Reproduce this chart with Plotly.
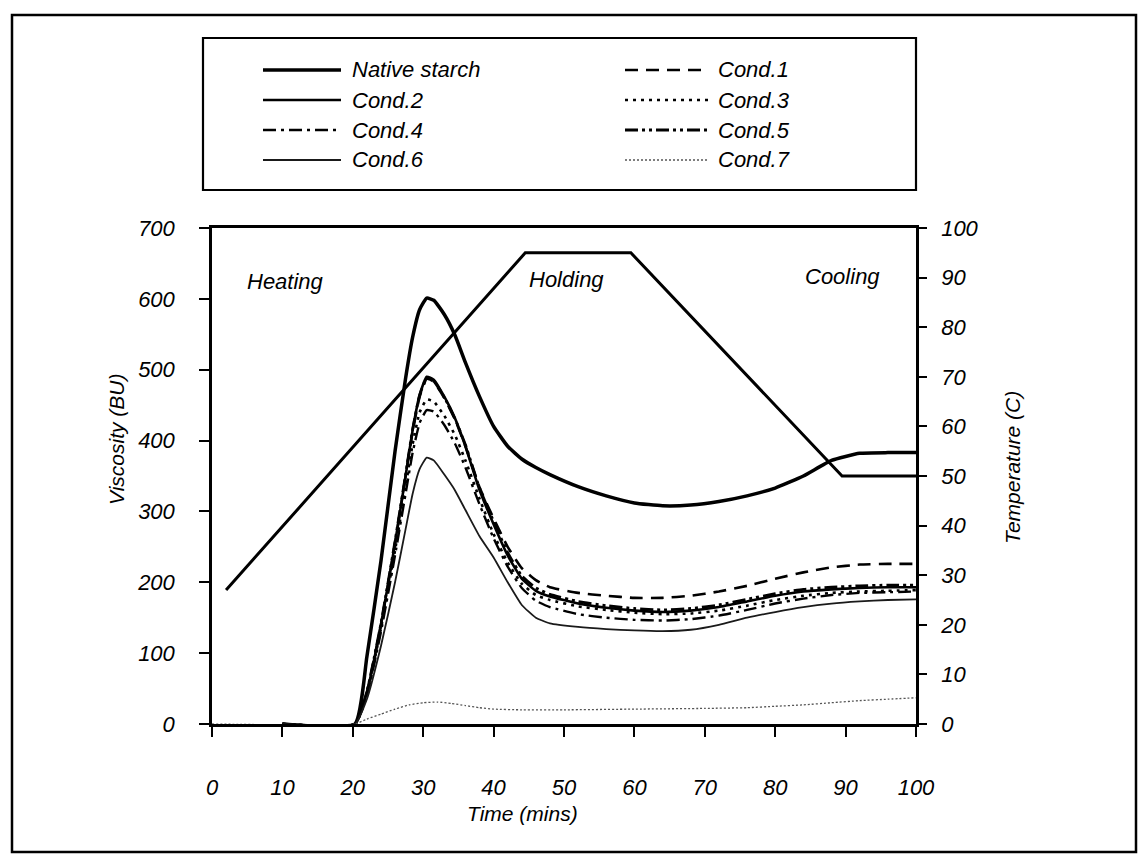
import plotly.graph_objects as go

# ---- data -------------------------------------------------------------
# time axis (min) shared by the viscosity curves
time_min = [10, 20.3, 22, 24, 26, 27.5, 28.5, 29.5, 30.5, 31.5, 33, 34.5, 36, 38,
            40, 42, 44, 46, 48, 52, 56, 60, 64, 68, 72, 76, 80, 84, 88, 92, 96, 100]

native_starch = [0, 0, 95, 230, 385, 488, 546, 585, 601, 598, 578, 549, 510, 462,
                 420, 392, 374, 362, 352, 335, 322, 312, 308, 309, 314, 322, 333, 350,
                 372, 382, 383, 383]
cond_1 = [0, 0, 45, 140, 255, 350, 413, 462, 487, 483, 460, 430, 392, 334,
          290, 250, 220, 203, 193, 185, 181, 178, 178, 181, 187, 195, 205, 214,
          221, 225, 226, 226]
cond_2 = [0, 0, 45, 140, 255, 350, 415, 465, 490, 486, 462, 432, 392, 330,
          282, 238, 205, 188, 180, 170, 164, 160, 158, 160, 165, 173, 181, 187,
          190, 192, 193, 193]
cond_3 = [0, 0, 42, 135, 245, 335, 395, 440, 458, 455, 435, 408, 372, 318,
          268, 228, 198, 182, 175, 166, 161, 157, 155, 156, 160, 167, 175, 181,
          185, 187, 188, 189]
cond_4 = [0, 0, 40, 130, 238, 325, 383, 425, 443, 441, 422, 396, 362, 310,
          262, 222, 192, 174, 165, 155, 150, 147, 146, 148, 153, 161, 170, 177,
          182, 185, 186, 187]
cond_5 = [0, 0, 46, 142, 258, 352, 416, 464, 488, 484, 461, 431, 394, 333,
          286, 242, 209, 192, 183, 173, 167, 163, 161, 163, 168, 176, 184, 190,
          193, 195, 196, 196]
cond_6 = [0, 0, 35, 110, 200, 275, 325, 360, 376, 372, 352, 330, 302, 265,
          235, 200, 168, 150, 142, 137, 134, 132, 131, 133, 140, 150, 158, 165,
          170, 173, 175, 176]

time_cond7 = [0, 20.3, 22, 24, 26, 28, 30, 32, 34, 36, 38, 40, 44, 50, 60, 70,
              76, 80, 84, 88, 92, 96, 100]
cond_7 = [0, 0, 7, 14, 21, 27, 30, 31, 29, 26, 23, 21, 20, 20, 21, 22,
          23, 25, 27, 30, 33, 35, 37]

# temperature programme (°C)
time_temp = [2, 44.5, 59.5, 89.5, 100]
temperature = [27, 95, 95, 50, 50]

series_names = ["Native starch", "Cond.1", "Cond.2", "Cond.3",
                "Cond.4", "Cond.5", "Cond.6", "Cond.7"]
phase_labels = ["Heating", "Holding", "Cooling"]
phase_time = [10.5, 50.3, 89.6]
phase_visc = [625, 627, 632]

x_ticks = list(range(0, 101, 10))
y_ticks = list(range(0, 701, 100))
y2_ticks = list(range(0, 101, 10))

# ---- styling ----------------------------------------------------------
FONT = "Liberation Sans, Arial, sans-serif"
styles = {
    "Native starch": dict(color="black", width=3.5, dash="solid"),
    "Cond.1": dict(color="black", width=2.6, dash="13px,8px"),
    "Cond.2": dict(color="black", width=2.6, dash="solid"),
    "Cond.3": dict(color="black", width=2.6, dash="3px,5px"),
    "Cond.4": dict(color="black", width=2.4, dash="13px,5px,3px,5px"),
    "Cond.5": dict(color="black", width=2.8, dash="13px,4px,3px,4px,3px,4px"),
    "Cond.6": dict(color="#1a1a1a", width=1.8, dash="solid"),
    "Cond.7": dict(color="#555555", width=1.3, dash="2px,2px"),
}
values = {
    "Native starch": (time_min, native_starch),
    "Cond.1": (time_min, cond_1),
    "Cond.2": (time_min, cond_2),
    "Cond.3": (time_min, cond_3),
    "Cond.4": (time_min, cond_4),
    "Cond.5": (time_min, cond_5),
    "Cond.6": (time_min, cond_6),
    "Cond.7": (time_cond7, cond_7),
}

W, H = 1139, 857
L, R, T, B = 212, 916, 228, 724  # plot area in px


def px(x):
    return (x - L) / (R - L)


def py(y):
    return (B - y) / (B - T)


fig = go.Figure()

for name in series_names:
    xs, ys = values[name]
    fig.add_trace(go.Scatter(x=xs, y=ys, mode="lines", name=name,
                             line=dict(shape="spline", smoothing=0.45, **styles[name]),
                             showlegend=False))

fig.add_trace(go.Scatter(x=time_temp, y=temperature, mode="lines", yaxis="y2",
                         name="Temperature", line=dict(color="black", width=3),
                         showlegend=False))

# phase labels
for lbl, tx, ty in zip(phase_labels, phase_time, phase_visc):
    fig.add_annotation(x=tx, y=ty, text=lbl, showarrow=False,
                       xanchor="center", yanchor="middle",
                       font=dict(family=FONT, size=22, style="italic", color="black"))

# outer frame and legend panel
shapes = [
    dict(type="rect", xref="paper", yref="paper", x0=px(12), x1=px(1136),
         y0=py(852), y1=py(15), line=dict(color="black", width=2.5)),
    dict(type="rect", xref="paper", yref="paper", x0=px(203), x1=px(916),
         y0=py(190), y1=py(38), line=dict(color="black", width=2.2),
         fillcolor="rgba(0,0,0,0)"),
]
col_sample = [(263, 341, 350), (625, 709, 716)]
row_y = [70, 100, 130, 160]
for i, name in enumerate(series_names):
    c0, c1, tx = col_sample[i % 2]
    yy = row_y[i // 2]
    st = styles[name]
    shapes.append(dict(type="line", xref="paper", yref="paper", x0=px(c0), x1=px(c1),
                       y0=py(yy), y1=py(yy),
                       line=dict(color=st["color"], width=st["width"], dash=st["dash"])))
    fig.add_annotation(xref="paper", yref="paper", x=px(tx), y=py(yy), text=name,
                       showarrow=False, xanchor="left", yanchor="middle",
                       font=dict(family=FONT, size=22, style="italic", color="black"))

# axis titles
fig.add_annotation(xref="paper", yref="paper", x=px(116), y=py(440),
                   text="Viscosity (BU)", textangle=-90, showarrow=False,
                   xanchor="center", yanchor="middle",
                   font=dict(family=FONT, size=21, style="italic", color="black"))
fig.add_annotation(xref="paper", yref="paper", x=px(1012), y=py(468),
                   text="Temperature (C)", textangle=-90, showarrow=False,
                   xanchor="center", yanchor="middle",
                   font=dict(family=FONT, size=21, style="italic", color="black"))
fig.add_annotation(xref="paper", yref="paper", x=px(522), y=py(813),
                   text="Time (mins)", showarrow=False,
                   xanchor="center", yanchor="middle",
                   font=dict(family=FONT, size=21, style="italic", color="black"))

fig.update_layout(
    width=W, height=H,
    margin=dict(l=L, r=W - R, t=T, b=H - B),
    paper_bgcolor="white", plot_bgcolor="white",
    shapes=shapes,
    xaxis=dict(range=[0, 100], tickvals=x_ticks, showgrid=False, zeroline=False,
               showline=True, linecolor="black", linewidth=2.5, mirror=True,
               ticks="outside", ticklen=10, tickwidth=1.5, tickcolor="black",
               ticklabelstandoff=32,
               tickfont=dict(family=FONT, size=22, style="italic", color="black")),
    yaxis=dict(range=[0, 700], tickvals=y_ticks, showgrid=False, zeroline=False,
               showline=True, linecolor="black", linewidth=2.5,
               ticks="outside", ticklen=10, tickwidth=1.5, tickcolor="black",
               ticklabelstandoff=20,
               tickfont=dict(family=FONT, size=22, style="italic", color="black")),
    yaxis2=dict(range=[0, 100], tickvals=y2_ticks, overlaying="y", side="right",
                showgrid=False, zeroline=False, showline=True, linecolor="black",
                linewidth=2.5, ticks="outside", ticklen=8, tickwidth=1.5,
                tickcolor="black", ticklabelstandoff=10,
                tickfont=dict(family=FONT, size=22, style="italic", color="black")),
    showlegend=False,
)

fig.write_html("out.html")
